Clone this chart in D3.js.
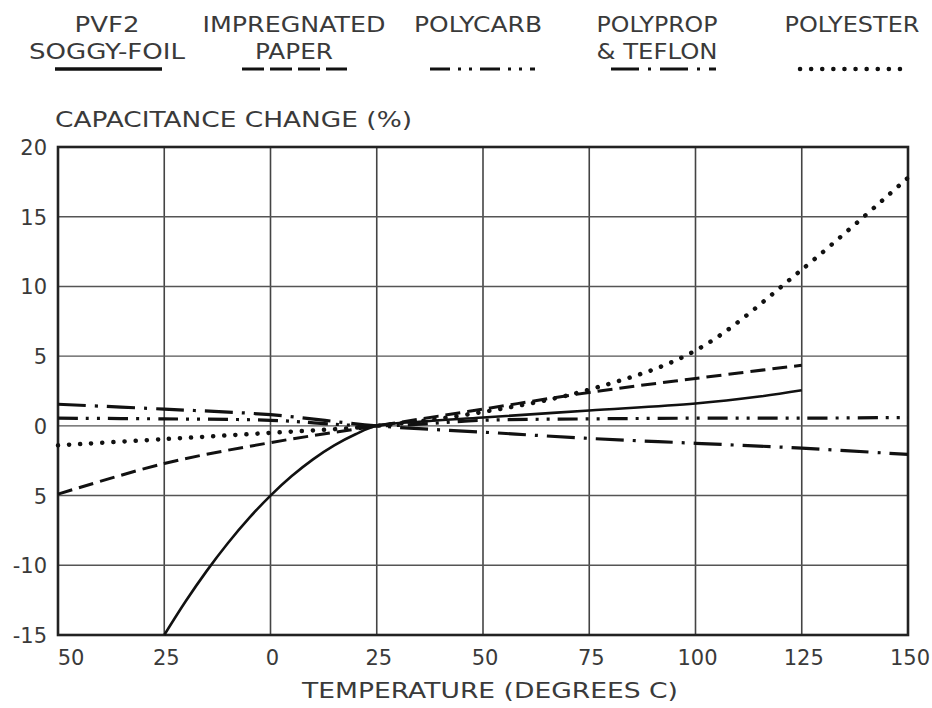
<!DOCTYPE html>
<html>
<head>
<meta charset="utf-8">
<script src="https://cdn.jsdelivr.net/npm/d3@7"></script>
<style>
  body { margin: 0; background: #fff; }
  text { font-family: "DejaVu Sans", sans-serif; fill: #3a3a3a; }
</style>
</head>
<body>
<svg id="chart" width="932" height="708"></svg>
<script>
/* Values */
var xTicks = [-50, -25, 0, 25, 50, 75, 100, 125, 150];
var xTickLabels = ["50", "25", "0", "25", "50", "75", "100", "125", "150"];
var yTicks = [-15, -10, -5, 0, 5, 10, 15, 20];
var yTickLabels = ["-15", "-10", "5", "0", "5", "10", "15", "20"];

/* PVF2 soggy-foil */
var pvf2Temp  = [-25, -20, -15, -10, -5, 0, 5, 10, 15, 20, 25, 35, 50, 75, 100, 115, 125];
var pvf2Value = [-15, -12.6, -10.4, -8.4, -6.6, -5, -3.6, -2.4, -1.4, -0.6, 0, 0.3, 0.6, 1.1, 1.6, 2.1, 2.55];

/* Impregnated paper */
var paperTemp  = [-50, -25, 0, 25, 50, 75, 100, 125];
var paperValue = [-4.9, -2.7, -1.2, 0, 1.2, 2.4, 3.4, 4.35];

/* Polycarb */
var carbTemp  = [-50, -25, 0, 25, 50, 75, 100, 125, 150];
var carbValue = [0.55, 0.5, 0.4, 0, 0.4, 0.5, 0.55, 0.55, 0.6];

/* Polyprop & teflon */
var propTemp  = [-50, -25, 0, 25, 50, 75, 100, 125, 150];
var propValue = [1.55, 1.2, 0.8, 0, -0.45, -0.9, -1.25, -1.6, -2.05];

/* Polyester */
var esterTemp  = [-50, -25, 0, 25, 50, 75, 100, 125, 150];
var esterValue = [-1.4, -0.95, -0.5, 0, 1.0, 2.6, 5.4, 11.2, 17.8];

var seriesNames = [["PVF2", "SOGGY-FOIL"], ["IMPREGNATED", "PAPER"], ["POLYCARB"],
                   ["POLYPROP", "& TEFLON"], ["POLYESTER"]];

/* Line looks for each series */
var styles = [
	{ dash: null, width: 2.6, cap: "butt" },
	{ dash: "15,7", width: 3, cap: "butt" },
	{ dash: "20,8,3,8,3,8", width: 3.2, cap: "butt" },
	{ dash: "28,9,3,9", width: 3.2, cap: "butt" },
	{ dash: "0.1,11", width: 4.5, cap: "round" }
];

var svg = d3.select("#chart");
var margin = { left: 58, right: 24, top: 147, bottom: 73 };
var width = 932 - margin.left - margin.right;
var height = 708 - margin.top - margin.bottom;

var x = d3.scaleLinear().domain([-50, 150]).range([margin.left, margin.left + width]);
var y = d3.scaleLinear().domain([-15, 20]).range([margin.top + height, margin.top]);

/* Grid */
var grid = svg.append("g");
grid.selectAll(".vgrid")
	.data(xTicks.slice(1, -1))
	.enter().append("line")
	.attr("x1", function(d) { return x(d); })
	.attr("x2", function(d) { return x(d); })
	.attr("y1", y(20)).attr("y2", y(-15))
	.attr("stroke", "#444").attr("stroke-width", 1.6);
grid.selectAll(".hgrid")
	.data(yTicks.slice(1, -1))
	.enter().append("line")
	.attr("x1", x(-50)).attr("x2", x(150))
	.attr("y1", function(d) { return y(d); })
	.attr("y2", function(d) { return y(d); })
	.attr("stroke", "#555").attr("stroke-width", 1.4);

/* Frame */
svg.append("rect")
	.attr("x", x(-50)).attr("y", y(20))
	.attr("width", x(150) - x(-50)).attr("height", y(-15) - y(20))
	.attr("fill", "none").attr("stroke", "#222").attr("stroke-width", 2.6);

/* Tick labels */
svg.selectAll(".xlab")
	.data(xTicks)
	.enter().append("text")
	.attr("x", function(d) { return x(d) + (d == -50 ? 13 : 2); })
	.attr("y", 665)
	.attr("text-anchor", "middle")
	.style("font-size", "21px")
	.text(function(d, i) { return xTickLabels[i]; });

svg.selectAll(".ylab")
	.data(yTicks)
	.enter().append("text")
	.attr("x", 47)
	.attr("y", function(d) { return y(d) + 8; })
	.attr("text-anchor", "end")
	.style("font-size", "21px")
	.text(function(d, i) { return yTickLabels[i]; });

/* Axis titles */
svg.append("text")
	.attr("x", 55).attr("y", 127)
	.attr("textLength", 357).attr("lengthAdjust", "spacingAndGlyphs")
	.style("font-size", "21px")
	.text("CAPACITANCE  CHANGE  (%)");

svg.append("text")
	.attr("x", 302).attr("y", 698)
	.attr("textLength", 376).attr("lengthAdjust", "spacingAndGlyphs")
	.style("font-size", "21px")
	.text("TEMPERATURE  (DEGREES  C)");

/* Curves */
var line = d3.line()
	.x(function(d) { return x(d[0]); })
	.y(function(d) { return y(d[1]); })
	.curve(d3.curveCatmullRom.alpha(0.5));

var series = [
	d3.zip(pvf2Temp, pvf2Value),
	d3.zip(paperTemp, paperValue),
	d3.zip(carbTemp, carbValue),
	d3.zip(propTemp, propValue),
	d3.zip(esterTemp, esterValue)
];

series.forEach(function(pts, i) {
	svg.append("path")
		.datum(pts)
		.attr("d", line)
		.attr("fill", "none")
		.attr("stroke", "#111")
		.attr("stroke-width", styles[i].width)
		.attr("stroke-linecap", styles[i].cap)
		.attr("stroke-dasharray", styles[i].dash);
});

/* Legend */
var legendCenters = [107, 294, 478, 657, 852];
var legendLines = [[55, 162], [242, 347], [430, 535], [611, 716], [800, 910]];
var legendWidths = [[65, 156], [183, 78], [128], [121, 121], [135]];

seriesNames.forEach(function(names, i) {
	names.forEach(function(name, j) {
		svg.append("text")
			.attr("x", legendCenters[i] - legendWidths[i][j] / 2)
			.attr("y", 32 + j * 27)
			.attr("textLength", legendWidths[i][j])
			.attr("lengthAdjust", "spacingAndGlyphs")
			.style("font-size", "21px")
			.text(name);
	});
	svg.append("line")
		.attr("x1", legendLines[i][0]).attr("x2", legendLines[i][1])
		.attr("y1", 69).attr("y2", 69)
		.attr("stroke", "#111")
		.attr("stroke-width", i == 0 ? 3.5 : styles[i].width)
		.attr("stroke-linecap", styles[i].cap)
		.attr("stroke-dasharray", i == 1 ? "22,6" : styles[i].dash);
});
</script>
</body>
</html>
